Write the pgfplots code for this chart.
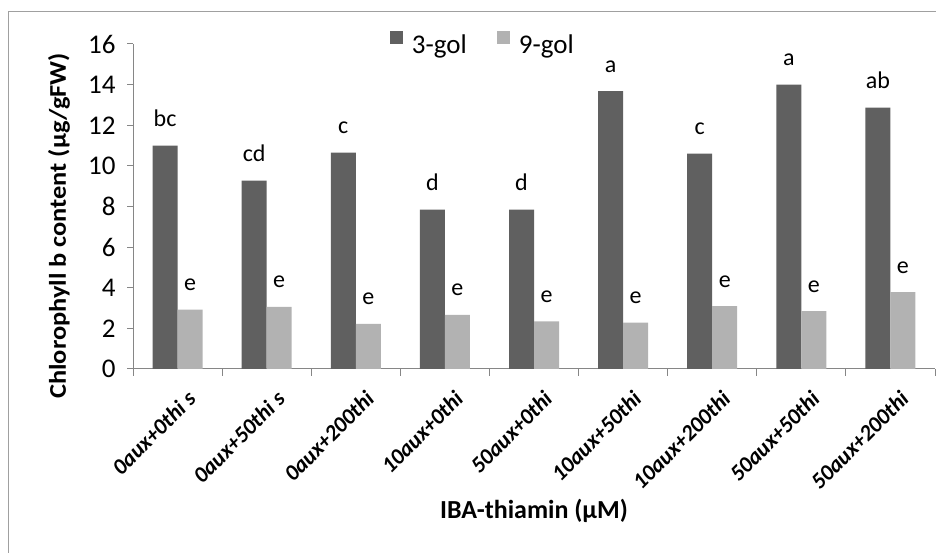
\documentclass[border=0pt]{standalone}
\usepackage{pgfplots}
\usepackage{pgfplotstable}
\pgfplotsset{compat=1.18}
\usepackage{fontspec}
\setmainfont{Carlito}
\newfontfamily\ylabfont[FakeStretch=1.1]{Carlito}
\definecolor{darkbar}{RGB}{96,96,96}
\definecolor{lightbar}{RGB}{178,178,178}
\definecolor{axisgray}{RGB}{134,134,134}
\definecolor{framegray}{RGB}{160,160,160}
\pgfplotstableread{
x g3 l3 g9 l9
0 11.0 bc 2.92 e
1 9.27 cd 3.06 e
2 10.65 c 2.22 e
3 7.85 d 2.66 e
4 7.85 d 2.35 e
5 13.68 a 2.28 e
6 10.6 c 3.09 e
7 14.0 a 2.85 e
8 12.87 ab 3.79 e
}\datatable
\begin{document}
\begin{tikzpicture}
\useasboundingbox (0pt,0pt) rectangle (936pt,553pt);
\draw[framegray, line width=1pt] (8pt,-20pt) -- (8pt,541pt) -- (960pt,541pt);
\begin{axis}[
  at={(133pt,184pt)}, anchor=south west,
  scale only axis, width=802pt, height=325pt,
  ybar=0pt, bar width=25pt,
  xmin=-0.5, xmax=8.5, ymin=0, ymax=16,
  ytick={0,2,...,16},
  xtick={0,...,8},
  xticklabels={0aux+0thi s,0aux+50thi s,0aux+200thi,10aux+0thi,50aux+0thi,10aux+50thi,10aux+200thi,50aux+50thi,50aux+200thi},
  minor xtick={-0.5,0.5,...,8.5},
  axis x line*=bottom, axis y line*=left,
  axis line style={axisgray, line width=1pt, -},
  tick align=outside,
  major tick length=6pt, minor tick length=7pt,
  tick style={axisgray, line width=1pt},
  major x tick style={draw=none},
  /pgf/number format/assume math mode=true,
  yticklabel style={font=\fontsize{27}{32}\selectfont, xshift=-8pt},
  xticklabel style={font=\fontsize{22.5}{27}\selectfont\bfseries\itshape, rotate=45, anchor=north east, inner sep=0pt, xshift=-4pt, yshift=-16pt},
  xlabel={\bfseries IBA-thiamin (µM)},
  xlabel style={font=\fontsize{26}{30}\selectfont, at={(rel axis cs:0.5,-0.437)}, anchor=center},
  nodes near coords,
  point meta=explicit symbolic,
  nodes near coords style={font=\fontsize{24}{28}\selectfont, inner sep=0pt, anchor=base, yshift=19pt, text=black},
  legend style={at={(0.3204,1)}, anchor=west, draw=none, fill=none, inner sep=0pt, outer sep=0pt, legend columns=2,
    font=\fontsize{27}{32}\selectfont,
    /tikz/every odd column/.append style={column sep=7pt},
    /tikz/every even column/.append style={column sep=28pt}},
  legend image code/.code={\fill[#1] (0pt,0pt) rectangle (13pt,13pt);},
]
\addplot[fill=darkbar, draw=none] table[x=x, y=g3, meta=l3] {\datatable};
\addplot[fill=lightbar, draw=none] table[x=x, y=g9, meta=l9] {\datatable};
\legend{3-gol, 9-gol}
\end{axis}
\node[rotate=90, font=\fontsize{24}{28}\selectfont] at (59pt,327pt) {\ylabfont\bfseries Chlorophyll b content (µg/gFW)};
\end{tikzpicture}
\end{document}
